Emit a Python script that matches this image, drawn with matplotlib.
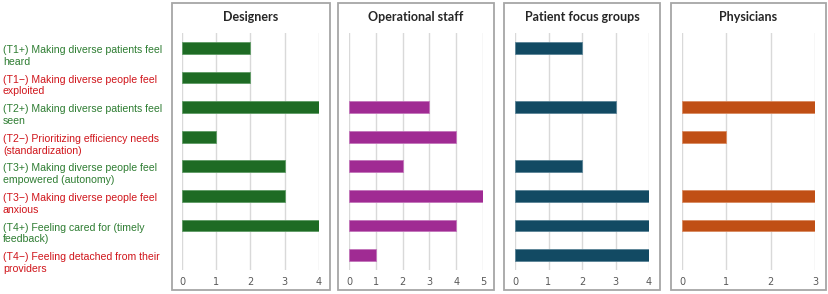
import matplotlib
matplotlib.use("Agg")
import matplotlib.pyplot as plt
from matplotlib.patches import Rectangle

W, H = 829, 294

categories = [
    "(T1+) Making diverse patients feel\nheard",
    "(T1\u2212) Making diverse people feel\nexploited",
    "(T2+) Making diverse patients feel\nseen",
    "(T2\u2212) Prioritizing efficiency needs\n(standardization)",
    "(T3+) Making diverse people feel\nempowered (autonomy)",
    "(T3\u2212) Making diverse people feel\nanxious",
    "(T4+) Feeling cared for (timely\nfeedback)",
    "(T4\u2212) Feeling detached from their\nproviders",
]
label_positive = [True, False, True, False, True, False, True, False]

panel_titles = ["Designers", "Operational staff", "Patient focus groups", "Physicians"]
designers = [2, 2, 4, 1, 3, 3, 4, 0]
operational_staff = [0, 0, 3, 4, 2, 5, 4, 1]
patient_focus_groups = [2, 0, 3, 0, 2, 4, 4, 4]
physicians = [0, 0, 3, 1, 0, 3, 3, 0]
series = [designers, operational_staff, patient_focus_groups, physicians]
x_max = [4, 5, 4, 3]
colors = ["#1E6B24", "#A02B93", "#124A63", "#C04F15"]
edge_colors = ["#5E9A64", "#C274BA", "#5A8396", "#D98A60"]

# layout in pixels: (box_left, box_right, plot_left, plot_right)
panels_px = [
    (172, 330, 182, 319),
    (338, 494, 349, 483),
    (504, 660, 515, 649),
    (671, 826, 682, 815),
]
box_top, box_bottom = 3, 290
plot_top, plot_bottom = 33, 270

fig = plt.figure(figsize=(W / 100, H / 100), dpi=100)

def fx(px):
    return px / W

def fy(py):
    return 1 - py / H

axes = []
for i, (bl, br, pl, pr) in enumerate(panels_px):
    rect = Rectangle((fx(bl), fy(box_bottom)), fx(br - bl), (box_bottom - box_top) / H,
                     transform=fig.transFigure, fill=False, edgecolor="#A6A6A6",
                     linewidth=1.3, zorder=0)
    fig.patches.append(rect)
    ax = fig.add_axes([fx(pl), fy(plot_bottom), fx(pr - pl), (plot_bottom - plot_top) / H])
    lws = [0.6 if v > 0 else 0 for v in series[i]]
    ax.barh(range(len(categories)), series[i], height=0.4, color=colors[i],
            edgecolor=edge_colors[i], linewidth=lws, zorder=3)
    ax.set_xlim(0, x_max[i])
    ax.set_ylim(len(categories) - 0.5, -0.5)
    ax.set_xticks(range(x_max[i] + 1))
    ax.set_yticks([])
    ax.grid(axis="x", color="#D9D9D9", linewidth=1.0, zorder=0)
    for s in ax.spines.values():
        s.set_visible(False)
    ax.tick_params(axis="x", length=0, pad=5, labelsize=7, labelcolor="#595959")
    ax.patch.set_alpha(0)
    fig.text(fx((bl + br) / 2), fy(17), panel_titles[i], ha="center", va="center",
             fontsize=9, fontweight="bold", color="#262626", family="Lato")
    axes.append(ax)

ax0 = axes[0]
for j, lab in enumerate(categories):
    _, ydisp = ax0.transData.transform((0, j))
    y = ydisp / fig.dpi / (H / 100) - 8 / H
    fig.text(fx(3), y, lab, ha="left", va="center", fontsize=7.6,
             family="Liberation Sans", linespacing=1.22,
             color="#2E7D32" if label_positive[j] else "#D0151B")

fig.savefig("out.png", dpi=100)
